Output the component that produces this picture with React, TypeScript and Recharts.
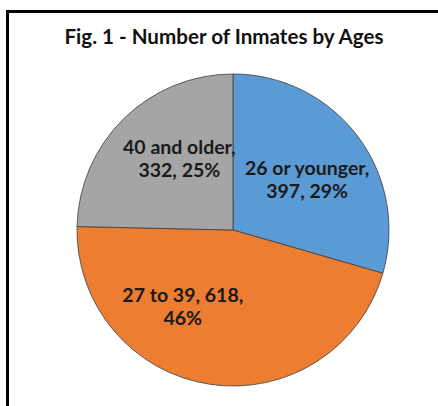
import { Cell, Pie, PieChart } from 'recharts';

const AGE_GROUPS = ['26 or younger', '27 to 39', '40 and older'];
const INMATES = [397, 618, 332];
const SLICE_COLORS = ['#5B9BD5', '#ED7D31', '#A5A5A5'];

// Excel pushes the labels off the slice bisector so the wrapped text sits
// inside the wedge; these nudges (degrees) mimic that.
const LABEL_NUDGE = [-2, -25, -8];
const LABEL_FONT = 'Lato, "Open Sans", sans-serif';

const TOTAL = INMATES.reduce((s, v) => s + v, 0);
const data = AGE_GROUPS.map((name, i) => ({ name, value: INMATES[i] }));

// greedy word wrap, roughly the width Excel allows for a data label
function wrap(text: string, maxChars: number) {
  const lines: string[] = [];
  let cur = '';
  for (const word of text.split(' ')) {
    const next = cur ? `${cur} ${word}` : word;
    if (next.length > maxChars && cur) {
      lines.push(cur);
      cur = word;
    } else {
      cur = next;
    }
  }
  if (cur) lines.push(cur);
  return lines;
}

const RAD = Math.PI / 180;

function renderLabel(props: any) {
  const { cx, cy, midAngle, outerRadius, index, name, value } = props;
  const angle = (midAngle + LABEL_NUDGE[index]) * RAD;
  const r = outerRadius * 0.58;
  const x = cx + r * Math.cos(angle);
  const y = cy - r * Math.sin(angle);
  const pct = Math.round((value / TOTAL) * 100);
  const lines = wrap(`${name}, ${value}, ${pct}%`, 14);
  const lineH = 23;
  const y0 = y - ((lines.length - 1) * lineH) / 2;
  return (
    <text
      x={x}
      y={y0}
      textAnchor="middle"
      dominantBaseline="central"
      fill="#1a1a1a"
      fontFamily={LABEL_FONT}
      fontWeight={700}
      fontSize={19.5}
    >
      {lines.map((line, i) => (
        <tspan key={i} x={x} dy={i === 0 ? 0 : lineH}>
          {line}
        </tspan>
      ))}
    </text>
  );
}

export default function App() {
  return (
    <div
      style={{
        position: 'absolute',
        left: 0,
        top: 0,
        width: 438,
        height: 406,
        overflow: 'hidden',
        background: '#fff',
      }}
    >
      <div
        style={{
          position: 'absolute',
          left: 6,
          top: 10,
          width: 460,
          height: 420,
          border: '3px solid #000',
          boxSizing: 'border-box',
        }}
      />
      <div
        style={{
          position: 'absolute',
          left: 0,
          top: 24,
          width: 448,
          textAlign: 'center',
          fontFamily: LABEL_FONT,
          fontWeight: 700,
          fontSize: 20.6,
          lineHeight: '24px',
          color: '#111',
        }}
      >
        Fig. 1 - Number of Inmates by Ages
      </div>
      <div style={{ position: 'absolute', left: 0, top: 0 }}>
        <PieChart width={438} height={406} margin={{ top: 0, right: 0, bottom: 0, left: 0 }}>
          <Pie
            data={data}
            dataKey="value"
            nameKey="name"
            cx={233}
            cy={230}
            outerRadius={156}
            startAngle={90}
            endAngle={-270}
            stroke="#3c3c3c"
            strokeWidth={0.8}
            label={renderLabel}
            labelLine={false}
            isAnimationActive={false}
          >
            {data.map((d, i) => (
              <Cell key={d.name} fill={SLICE_COLORS[i]} />
            ))}
          </Pie>
        </PieChart>
      </div>
    </div>
  );
}
